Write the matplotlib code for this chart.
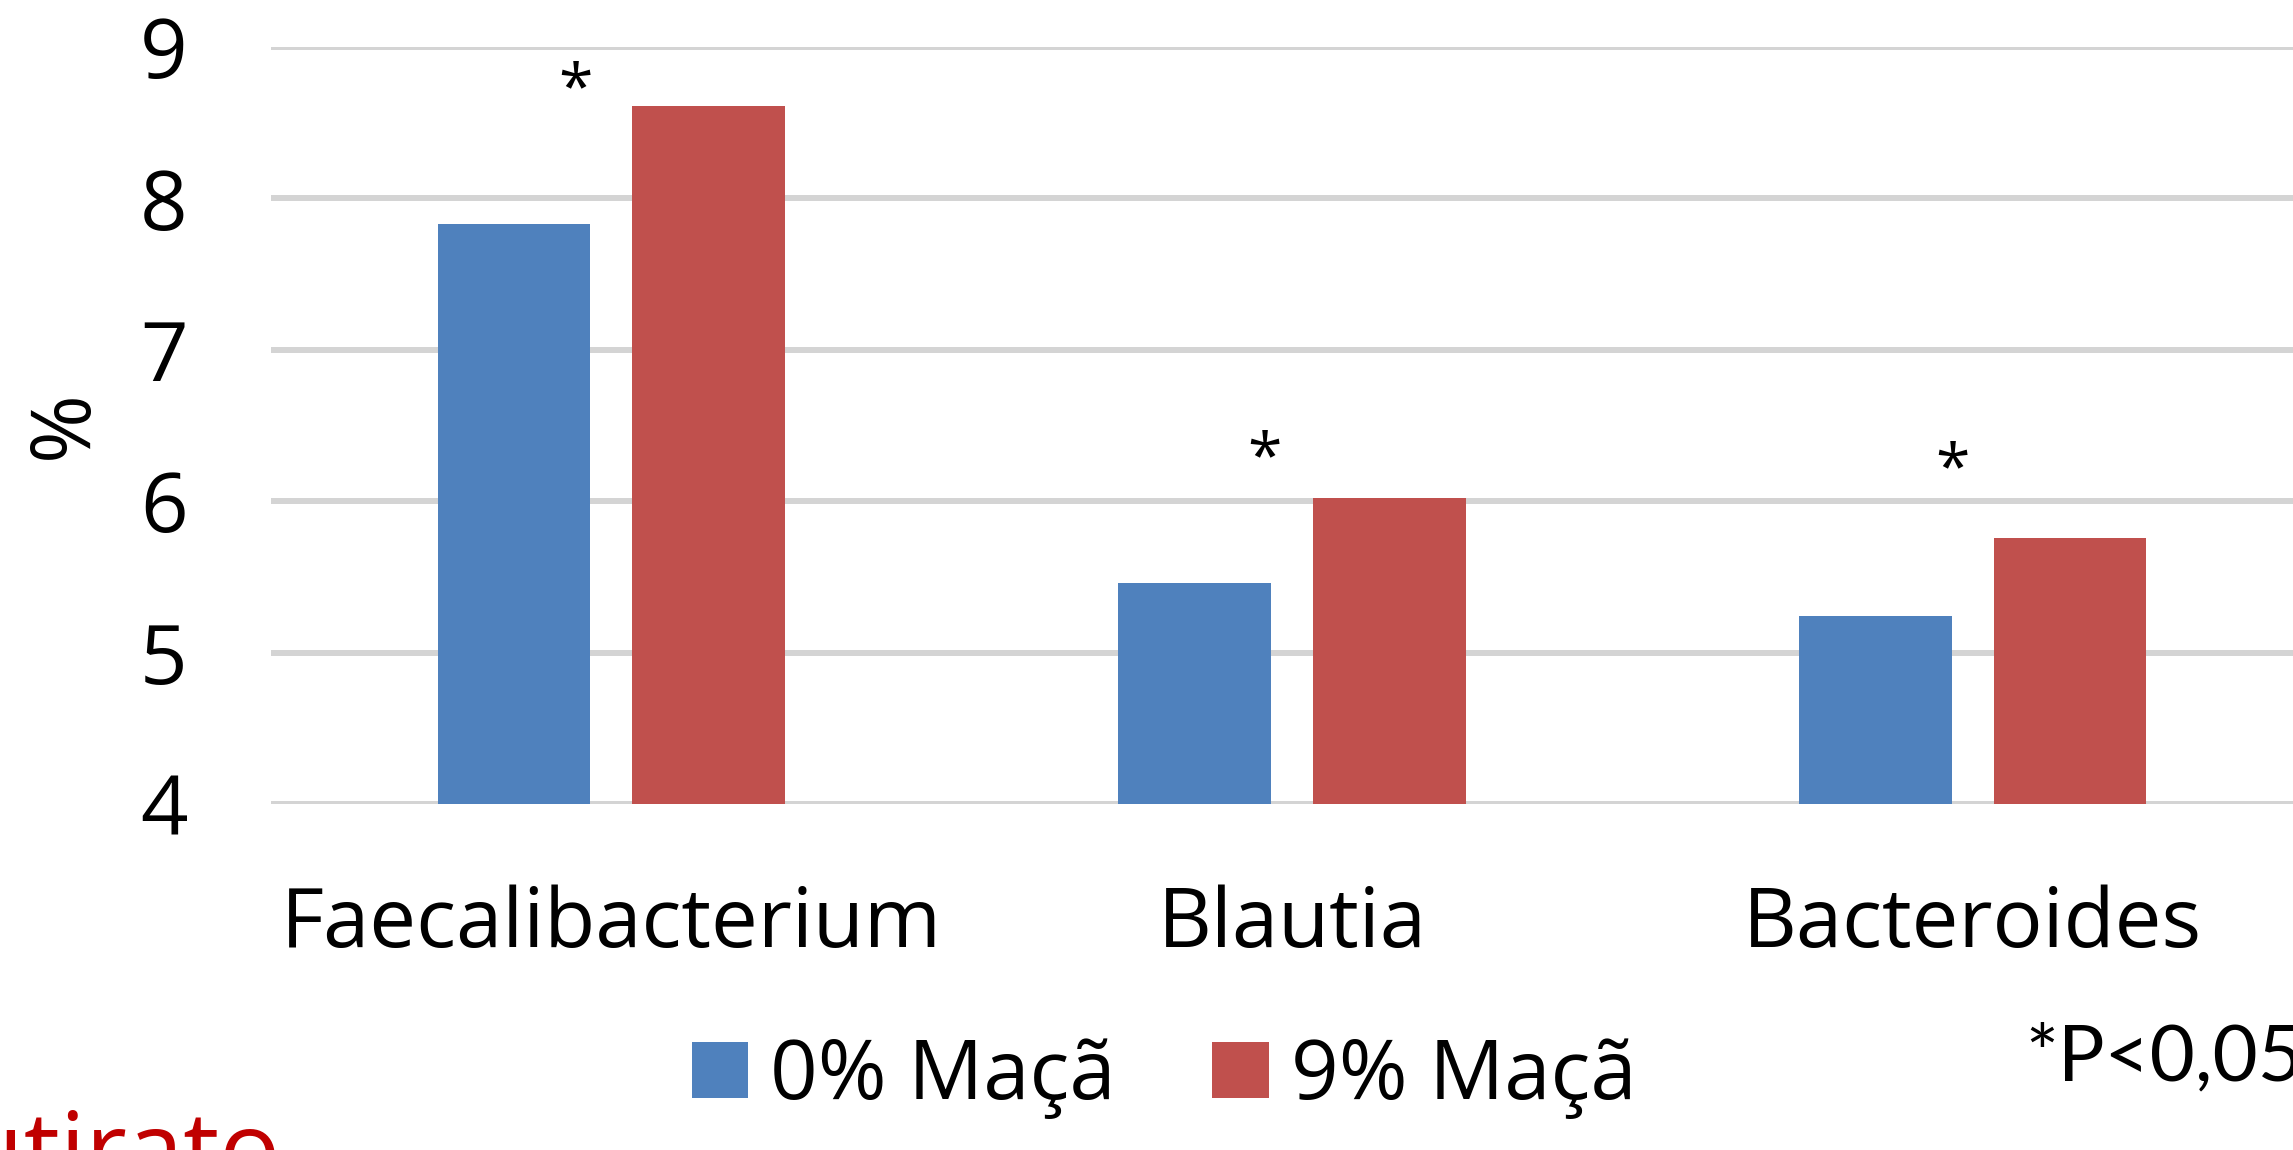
import numpy as np
import matplotlib.pyplot as plt

plt.rcParams['font.family'] = ['Open Sans', 'DejaVu Sans']

# Data
generos = ['Faecalibacterium', 'Blautia', 'Bacteroides']
maca_0 = [7.83, 5.46, 5.24]
maca_9 = [8.61, 6.02, 5.76]
series_labels = ['0% Maçã', '9% Maçã']
estrela_y = [8.82, 6.38, 6.31]       # where the "*" marks sit
estrela_dx = [-0.053, -0.040, -0.030]  # offset from category centre
y_ticks = [4, 5, 6, 7, 8, 9]

azul = '#4F81BD'
vermelho = '#C0504D'
fs = 60

fig = plt.figure(figsize=(22.93, 11.5), dpi=100)
ax = fig.add_axes([271 / 2293, 1 - 804 / 1150, (2313 - 271) / 2293, (804 - 47) / 1150])

x = np.arange(len(generos))
w = 0.224
off = 0.143
b0 = ax.bar(x - off, maca_0, w, bottom=0, color=azul, label=series_labels[0], zorder=3)
b1 = ax.bar(x + off, maca_9, w, bottom=0, color=vermelho, label=series_labels[1], zorder=3)

# significance stars (glyph sits high in the em box, so nudge down)
for xi, dx, yi in zip(x, estrela_dx, estrela_y):
    ax.text(xi + dx, yi - 0.11, '*', fontsize=45, ha='center', va='center')

ax.set_xlim(-0.5, 2.5)
ax.set_ylim(4, 9)
ax.set_yticks(y_ticks)
ax.set_xticks(x)
ax.set_xticklabels(generos)
ax.tick_params(axis='both', length=0, labelsize=fs)
ax.tick_params(axis='y', pad=60)
ax.tick_params(axis='x', pad=58)
ax.yaxis.grid(True, color='#d4d4d4', lw=4.3)
ax.set_axisbelow(True)
for s in ax.spines.values():
    s.set_visible(False)

fig.text(66 / 2293, 1 - 425 / 1150, '%', fontsize=fs, rotation=90,
         ha='center', va='center')

fig.legend(handles=[b0, b1], labels=series_labels, loc='center',
           bbox_to_anchor=(1164 / 2293, 1 - 1078 / 1150), ncol=2, frameon=False,
           fontsize=fs, handlelength=0.68, handleheight=0.66,
           handletextpad=0.26, columnspacing=1.16, borderpad=0)

fig.text(2025 / 2293, 1 - 1080 / 1150, '*P<0,05', fontsize=56, ha='left',
         va='baseline', family=['Lato', 'DejaVu Sans'])
fig.text(280 / 2293, 1 - 1184 / 1150, 'Butirato', fontsize=73, color='#C00000',
         ha='right', va='baseline')

fig.savefig('out.png', dpi=100)
